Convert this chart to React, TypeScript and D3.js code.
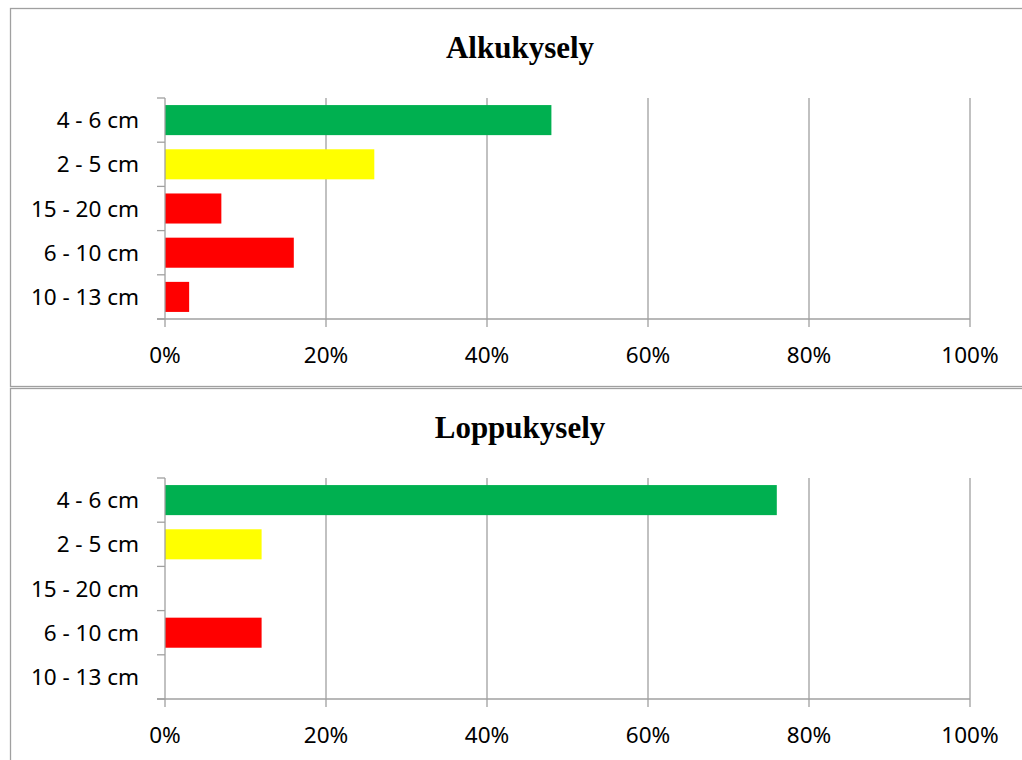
import React from "react";
import * as d3 from "d3";

const categories = ["4 - 6 cm", "2 - 5 cm", "15 - 20 cm", "6 - 10 cm", "10 - 13 cm"];
const barColors = ["#00b050", "#ffff00", "#ff0000", "#ff0000", "#ff0000"];
const alkuValues = [48, 26, 7, 16, 3];
const loppuValues = [76, 12, 0, 12, 0];
const xTicks = [0, 20, 40, 60, 80, 100];
const titles = ["Alkukysely", "Loppukysely"];

const GRID = "#a0a0a0";
const LABEL_FONT = "'Noto Sans', 'Open Sans', sans-serif";

function Panel({ top, title, values }: { top: number; title: string; values: number[] }) {
  const plotLeft = 165;
  const plotRight = 970;
  const plotTop = top + 90;
  const plotBottom = top + 311;
  const x = d3.scaleLinear().domain([0, 100]).range([plotLeft, plotRight]);
  const y = d3.scaleBand<string>().domain(categories).range([plotTop, plotBottom]).paddingInner(0.32).paddingOuter(0.16);
  const step = y.step();
  const boundaries = d3.range(categories.length + 1).map((i) => plotTop + i * (plotBottom - plotTop) / categories.length);
  return (
    <g>
      <text x={520} y={top + 50} textAnchor="middle" fontFamily="'Liberation Serif', 'Times New Roman', serif" fontWeight="bold" fontSize={31} fill="#000">
        {title}
      </text>
      {xTicks.slice(1).map((t) => (
        <line key={"g" + t} x1={x(t)} x2={x(t)} y1={plotTop} y2={plotBottom} stroke={GRID} strokeWidth={1.3} />
      ))}
      {values.map((v, i) => (
        <rect key={"b" + i} x={x(0)} y={y(categories[i])} width={x(v) - x(0)} height={y.bandwidth()} fill={barColors[i]} />
      ))}
      <line x1={plotLeft} x2={plotLeft} y1={plotTop} y2={plotBottom} stroke={GRID} strokeWidth={1.3} />
      <line x1={plotLeft - 8} x2={plotRight} y1={plotBottom} y2={plotBottom} stroke={GRID} strokeWidth={1.3} />
      {boundaries.map((b, i) => (
        <line key={"yt" + i} x1={plotLeft - 8} x2={plotLeft} y1={b} y2={b} stroke={GRID} strokeWidth={1.3} />
      ))}
      {xTicks.map((t) => (
        <line key={"xt" + t} x1={x(t)} x2={x(t)} y1={plotBottom} y2={plotBottom + 8} stroke={GRID} strokeWidth={1.3} />
      ))}
      {categories.map((c) => (
        <text key={"l" + c} x={139} y={(y(c) as number) + y.bandwidth() / 2} dy="0.36em" textAnchor="end" fontFamily={LABEL_FONT} fontSize={22.5} fill="#000">
          {c}
        </text>
      ))}
      {xTicks.map((t) => (
        <text key={"xl" + t} x={x(t)} y={plotBottom + 44} textAnchor="middle" fontFamily={LABEL_FONT} fontSize={22.5} fill="#000">
          {t + "%"}
        </text>
      ))}
      {step ? null : null}
    </g>
  );
}

export default function App() {
  return (
    <svg width={1022} height={760} style={{ position: "absolute", left: 0, top: 0, background: "#fff" }}>
      <rect x={0} y={0} width={1022} height={760} fill="#fff" />
      <rect x={10.5} y={8.5} width={1030} height={378} fill="#fff" stroke={GRID} strokeWidth={1.3} />
      <rect x={10.5} y={388.5} width={1030} height={400} fill="#fff" stroke={GRID} strokeWidth={1.3} />
      <Panel top={8} title={titles[0]} values={alkuValues} />
      <Panel top={388} title={titles[1]} values={loppuValues} />
    </svg>
  );
}
